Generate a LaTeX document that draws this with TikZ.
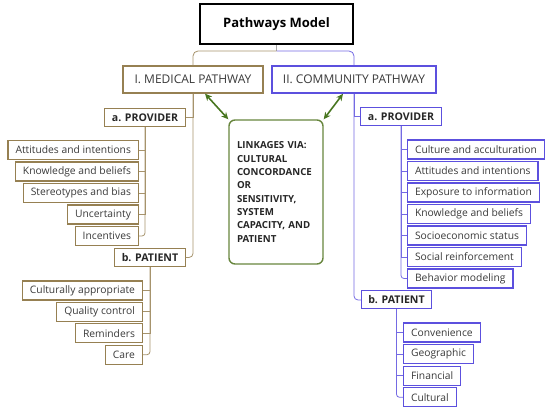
\documentclass[tikz,border=0pt]{standalone}
\usepackage{fontspec}
\setmainfont{Open Sans}
\usetikzlibrary{arrows.meta, calc}

\begin{document}
\begin{tikzpicture}[
    x=1pt, y=-1pt,
    >=Stealth,
]
% Colors
\definecolor{medbrown}{RGB}{150,128,82}
\definecolor{compurple}{RGB}{92,80,222}
\definecolor{linkgreen}{RGB}{104,134,62}
\definecolor{arrowgreen}{RGB}{72,118,32}
\definecolor{textgray}{RGB}{58,58,58}
% ============================================================
% Styles
% ============================================================
\tikzset{
    titlebox/.style={
        draw=black,
        fill=white,
        line width=2pt,
        minimum width=153pt,
        minimum height=40pt,
        font=\bfseries\fontsize{13}{15}\selectfont,
    },
    pathbox/.style={
        draw,
        fill=white,
        line width=1.3pt,
        minimum height=27pt,
        inner sep=0pt,
        text=textgray,
        font=\fontsize{12}{14}\selectfont,
    },
    groupbox/.style={
        draw,
        fill=white,
        line width=1pt,
        minimum height=18pt,
        inner xsep=7pt,
        inner ysep=0pt,
        text=black!85,
        font=\bfseries\fontsize{10.6}{12}\selectfont,
    },
    item/.style={
        draw,
        fill=white,
        line width=1.1pt,
        minimum height=19pt,
        inner xsep=7.5pt,
        inner ysep=0pt,
        text=textgray,
        font=\fontsize{10.3}{12}\selectfont,
    },
    medline/.style={draw=medbrown!85, line width=0.8pt},
    comline/.style={draw=compurple!85, line width=0.8pt},
    linkarrow/.style={{Stealth[length=7pt,width=6.5pt]}-{Stealth[length=7pt,width=6.5pt]}, arrowgreen, line width=1.6pt},
}
\useasboundingbox (0,0) rectangle (550,411);
% ============================================================
% Top: model and the two pathways
% ============================================================
\node[titlebox] (title) at (276.5, 24) {Pathways Model};
\node[pathbox, draw=medbrown, minimum width=140pt] (med) at (193, 79.5) {I. MEDICAL PATHWAY};
\node[pathbox, draw=compurple, line width=1.6pt, minimum width=164pt] (com) at (354, 79.5) {II. COMMUNITY PATHWAY};
\coordinate (split) at (276.5, 51);

% Linkage box in the middle
\node[draw=linkgreen, fill=white, line width=1.4pt, rounded corners=6pt,
      minimum width=94pt, minimum height=144pt, inner xsep=8pt,
      text width=78pt, align=left, text=black!85,
      font=\bfseries\fontsize{9.7}{13.3}\selectfont] (link) at (276, 192)
    {LINKAGES VIA:\\CULTURAL\\CONCORDANCE\\OR\\SENSITIVITY,\\SYSTEM\\CAPACITY, AND\\PATIENT};

% --- Medical side (items hang to the left) ---
\node[groupbox, draw=medbrown] (mprov) at (145, 117.5) {a. PROVIDER};
\node[groupbox, draw=medbrown] (mpat) at (150, 257.5) {b. PATIENT};
\foreach \i/\txt in {0/Attitudes and intentions, 1/Knowledge and beliefs,
                     2/Stereotypes and bias, 3/Uncertainty, 4/Incentives}
    \node[item, draw=medbrown, anchor=east] (mprov-\i) at (139, {150+21.5*\i}) {\txt};
\foreach \i/\txt in {0/Culturally appropriate, 1/Quality control,
                     2/Reminders, 3/Care}
    \node[item, draw=medbrown, anchor=east] (mpat-\i) at (143, {290.5+21.4*\i}) {\txt};

% --- Community side (items hang to the right) ---
\node[groupbox, draw=compurple] (cprov) at (401, 116.5) {a. PROVIDER};
\node[groupbox, draw=compurple] (cpat) at (396.5, 300) {b. PATIENT};
\foreach \i/\txt in {0/Culture and acculturation, 1/Attitudes and intentions,
                     2/Exposure to information, 3/Knowledge and beliefs,
                     4/Socioeconomic status, 5/Social reinforcement,
                     6/Behavior modeling}
    \node[item, draw=compurple, anchor=west] (cprov-\i) at (407, {149.5+21.5*\i}) {\txt};
\foreach \i/\txt in {0/Convenience, 1/Geographic, 2/Financial, 3/Cultural}
    \node[item, draw=compurple, anchor=west] (cpat-\i) at (403, {332.5+21.6*\i}) {\txt};

% ============================================================
% Tree lines
% ============================================================
\draw[gray!70, line width=0.8pt] (title.south) -- (split);
\draw[medline, rounded corners=5pt] (split) -| (med.north);
\draw[comline, rounded corners=5pt] (split) -| (com.north);
\draw[medline] (med.south) |- (mprov.east);
\draw[medline, rounded corners=4pt] (med.south) |- (mpat.east);
\draw[comline] (com.south) |- (cprov.west);
\draw[comline, rounded corners=4pt] (com.south) |- (cpat.west);

\foreach \i in {0,...,3}
    \draw[medline] (mprov.south) |- (mprov-\i.east);
\draw[medline, rounded corners=3pt] (mprov.south) |- (mprov-4.east);
\foreach \i in {0,...,2}
    \draw[medline] (mpat.south) |- (mpat-\i.east);
\draw[medline, rounded corners=3pt] (mpat.south) |- (mpat-3.east);
\foreach \i in {0,...,5}
    \draw[comline] (cprov.south) |- (cprov-\i.west);
\draw[comline, rounded corners=3pt] (cprov.south) |- (cprov-6.west);
\foreach \i in {0,...,2}
    \draw[comline] (cpat.south) |- (cpat-\i.west);
\draw[comline, rounded corners=3pt] (cpat.south) |- (cpat-3.west);

% Linkage arrows
\draw[linkarrow] ($(med.south)+(12,0)$) -- (link.north west);
\draw[linkarrow] ($(com.south)+(-11,0)$) -- (link.north east);
\end{tikzpicture}
\end{document}
